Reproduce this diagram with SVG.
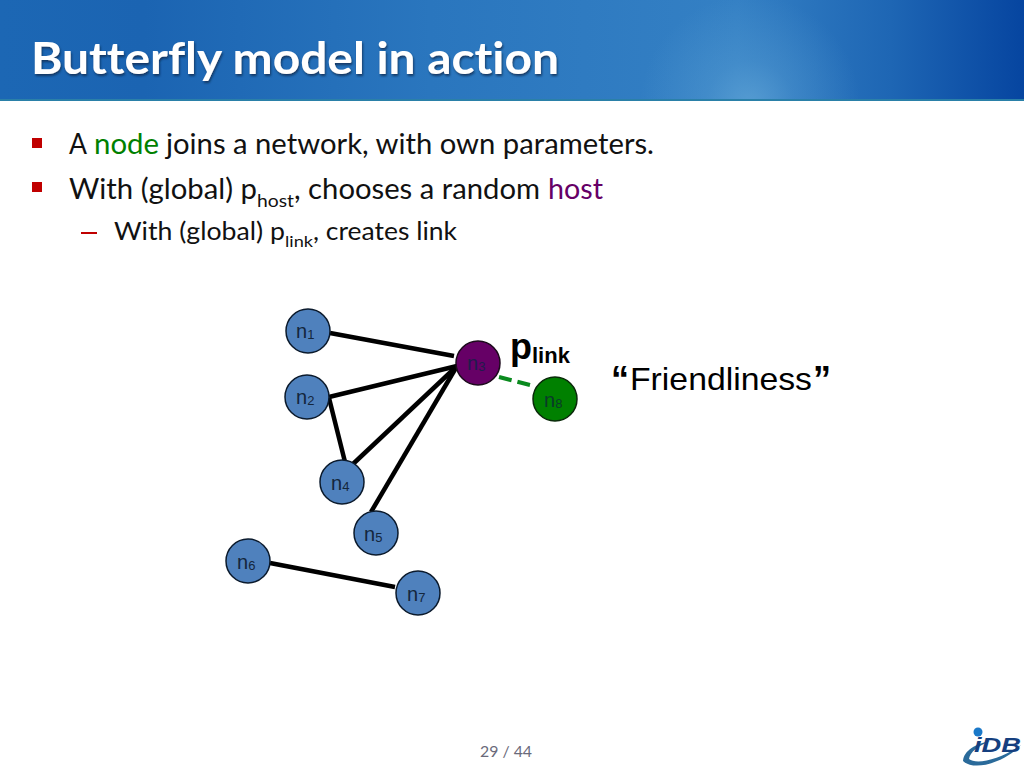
<svg xmlns="http://www.w3.org/2000/svg" width="1024" height="768" viewBox="0 0 1024 768">
<defs>
<linearGradient id="hdr" x1="0" y1="0" x2="1" y2="0">
<stop offset="0" stop-color="#1c67b4"/><stop offset="0.14" stop-color="#1b64b2"/><stop offset="0.42" stop-color="#2a76be"/><stop offset="0.72" stop-color="#3480c4"/><stop offset="0.87" stop-color="#1e66b4"/><stop offset="1" stop-color="#0645a0"/>
</linearGradient>
<radialGradient id="glow" gradientUnits="userSpaceOnUse" cx="750" cy="105" r="110">
<stop offset="0" stop-color="#64a8d8" stop-opacity="0.7"/><stop offset="0.4" stop-color="#64a8d8" stop-opacity="0.3"/><stop offset="1" stop-color="#64a8d8" stop-opacity="0"/>
</radialGradient>
<filter id="sh" x="-5%" y="-20%" width="110%" height="140%"><feDropShadow dx="1" dy="2" stdDeviation="1" flood-color="#0a2a50" flood-opacity="0.8"/></filter>
</defs>
<style>
.b{font-family:Lato,"Open Sans",sans-serif;fill:#111}
.n{fill:#4f81bd;stroke:#0b1a2c;stroke-width:1.5}
.l{font-family:"Liberation Sans",Arial,sans-serif;fill:#14263c;font-size:20px}
.s{font-size:13px}
.e{stroke:#000;stroke-width:4.5;fill:none}
</style>
<rect width="1024" height="768" fill="#fff"/>
<g id="header">
<rect width="1024" height="101" fill="url(#hdr)"/>
<rect width="1024" height="101" fill="url(#glow)"/>
<rect y="99" width="1024" height="2" fill="#2a80a8"/>
<text x="31" y="74" font-family="Lato,'Open Sans',sans-serif" font-weight="700" font-size="44" fill="#fff" filter="url(#sh)" textLength="528" lengthAdjust="spacingAndGlyphs" style="font-variant-ligatures:none">Butterfly model in action</text>
</g>
<g id="bullets">
<rect x="32" y="138" width="10" height="10" fill="#c00000"/>
<rect x="32" y="182" width="10" height="10" fill="#c00000"/>
<rect x="81" y="232" width="16" height="2" fill="#c00000"/>
<text class="b" x="69" y="154" font-size="28" textLength="18" lengthAdjust="spacingAndGlyphs">A</text>
<text class="b" x="94" y="154" font-size="28" style="fill:#008000" textLength="65" lengthAdjust="spacingAndGlyphs">node</text>
<text class="b" x="166" y="154" font-size="28" textLength="488" lengthAdjust="spacingAndGlyphs">joins a network, with own parameters.</text>
<text class="b" x="69" y="199" font-size="28" textLength="188" lengthAdjust="spacingAndGlyphs">With (global) p</text>
<text class="b" x="257" y="207" font-size="18" textLength="37" lengthAdjust="spacingAndGlyphs">host</text>
<text class="b" x="294" y="199" font-size="28" textLength="246" lengthAdjust="spacingAndGlyphs">, chooses a random</text>
<text class="b" x="548" y="199" font-size="28" style="fill:#660066" textLength="55" lengthAdjust="spacingAndGlyphs">host</text>
<text class="b" x="114" y="240" font-size="25" textLength="171" lengthAdjust="spacingAndGlyphs">With (global) p</text>
<text class="b" x="285" y="247" font-size="16" textLength="28" lengthAdjust="spacingAndGlyphs">link</text>
<text class="b" x="313" y="240" font-size="25" textLength="144" lengthAdjust="spacingAndGlyphs">, creates link</text>
</g>
<g id="connectors">
<line class="e" x1="330" y1="333" x2="454" y2="356"/>
<line class="e" x1="329" y1="397" x2="457" y2="366"/>
<line class="e" x1="329" y1="398" x2="345" y2="462"/>
<line class="e" x1="353" y1="464" x2="457" y2="366"/>
<line class="e" x1="371" y1="512" x2="457" y2="366"/>
<line class="e" x1="270" y1="563" x2="395" y2="587"/>
<line x1="499" y1="377" x2="534" y2="386" stroke="#0a8a1e" stroke-width="4" stroke-dasharray="13 6"/>
</g>
<g id="n1"><circle class="n" cx="308" cy="331" r="22"/><text class="l" x="296" y="338">n<tspan class="s" dy="1">1</tspan></text></g>
<g id="n2"><circle class="n" cx="307" cy="397" r="22"/><text class="l" x="296" y="404">n<tspan class="s" dy="1">2</tspan></text></g>
<g id="n3"><circle cx="478" cy="363" r="22" fill="#660066" stroke="#1c0a1c" stroke-width="1.5"/><text class="l" x="467" y="370" style="fill:#201c4c">n<tspan class="s" dy="1">3</tspan></text></g>
<g id="n4"><circle class="n" cx="342" cy="482" r="22"/><text class="l" x="331" y="490">n<tspan class="s" dy="1">4</tspan></text></g>
<g id="n5"><circle class="n" cx="376" cy="533" r="22"/><text class="l" x="364" y="541">n<tspan class="s" dy="1">5</tspan></text></g>
<g id="n6"><circle class="n" cx="248" cy="561" r="22"/><text class="l" x="237" y="569">n<tspan class="s" dy="1">6</tspan></text></g>
<g id="n7"><circle class="n" cx="418" cy="593" r="22"/><text class="l" x="407" y="601">n<tspan class="s" dy="1">7</tspan></text></g>
<g id="n8"><circle cx="555" cy="399" r="22" fill="#008000" stroke="#0a2a0a" stroke-width="1.5"/><text class="l" x="544" y="407" style="fill:#0a3a2a">n<tspan class="s" dy="1">8</tspan></text></g>
<g id="labels" font-family="'Liberation Sans',Arial,sans-serif" fill="#000">
<text x="510" y="359" font-size="36" font-weight="700">p<tspan font-size="22" dy="4">link</tspan></text>
<text x="611" y="392" font-size="36" font-weight="700">“</text>
<text x="630" y="390" font-size="32" textLength="182" lengthAdjust="spacingAndGlyphs">Friendliness</text>
<text x="813" y="392" font-size="36" font-weight="700">”</text>
<text x="480" y="757" font-family="Lato,'Open Sans',sans-serif" font-size="16" fill="#6a6a7a" textLength="52" lengthAdjust="spacingAndGlyphs">29 / 44</text>
</g>
<g id="logo">
<path d="M963 761C964 750 976 744 990 741C978 746 970 752 969 759C976 765 1000 760 1021 745C1006 762 974 772 963 761Z" fill="#2a6a9a"/>
<circle cx="978" cy="732" r="4.5" fill="#1a78c8"/>
<text x="974" y="752" font-family="'Liberation Sans',Arial,sans-serif" font-weight="700" font-style="italic" font-size="21" fill="#153f7f" textLength="47" lengthAdjust="spacingAndGlyphs">iDB</text>
</g>
</svg>
